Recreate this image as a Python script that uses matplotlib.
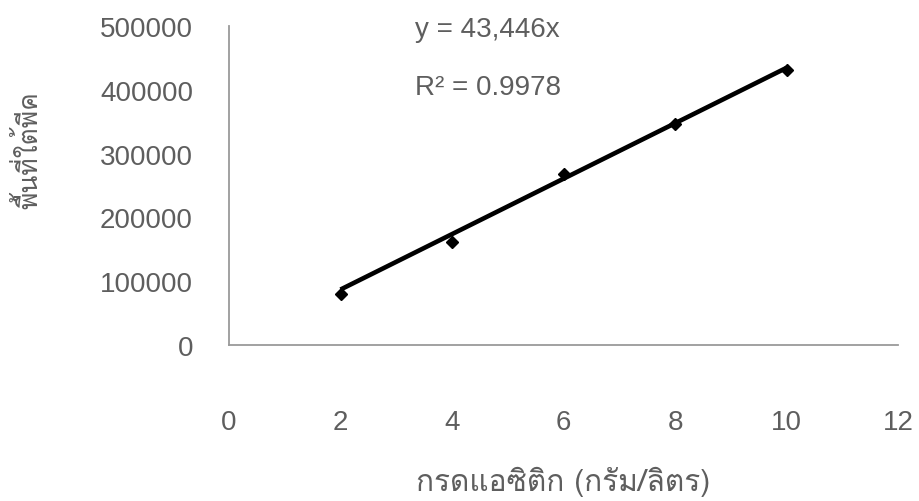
import matplotlib
matplotlib.use("Agg")
import matplotlib.pyplot as plt
from matplotlib import font_manager
from matplotlib.ft2font import FT2Font
import numpy as np

# acetic acid concentration (g/L) vs peak area
conc = [2, 4, 6, 8, 10]
peak_area = [80000, 161000, 268000, 347000, 431000]
slope = 43446
r2 = 0.9978
x_ticks = [0, 2, 4, 6, 8, 10, 12]
y_ticks = [0, 100000, 200000, 300000, 400000, 500000]

x_title = "กรดแอซิติก (กรัม/ลิตร)"
y_title = "พื้นที่ใต้พีค"


def thai_family():
    # first installed family that actually has Thai glyphs
    for f in font_manager.fontManager.ttflist:
        try:
            if 0x0E01 in FT2Font(f.fname).get_charmap():
                return f.name
        except Exception:
            pass
    return "DejaVu Sans"


thai = thai_family()
plt.rcParams["font.family"] = ["Liberation Sans", "DejaVu Sans"]
grey = "#5e5e5e"

fig = plt.figure(figsize=(9.19, 5.02), dpi=100)
ax = fig.add_axes([0.2492, 0.3108, 0.9772 - 0.2492, 0.9462 - 0.3108])

xs = np.array([conc[0], conc[-1]])
ax.plot(xs, slope * xs, color="black", lw=3.3, solid_capstyle="butt", zorder=2)
ax.plot(conc, peak_area, ls="none", marker="D", ms=6, color="black", zorder=3)

ax.set_xlim(0, 12)
ax.set_ylim(0, 500000)
ax.set_xticks(x_ticks)
ax.set_yticks(y_ticks)
ax.tick_params(axis="both", length=0, labelsize=20, colors=grey)
ax.tick_params(axis="x", pad=46)
ax.tick_params(axis="y", pad=26)

for side in ("top", "right"):
    ax.spines[side].set_visible(False)
for side in ("left", "bottom"):
    ax.spines[side].set_color("#9a9a9a")
    ax.spines[side].set_linewidth(1.3)

ax.text(415 / 919, 1 - 30 / 502, f"y = {slope:,}x", transform=fig.transFigure,
        fontsize=20, color=grey, va="center", ha="left")
ax.text(415 / 919, 1 - 88 / 502, f"R² = {r2}", transform=fig.transFigure,
        fontsize=20, color=grey, va="center", ha="left")

fig.text(563 / 919, 1 - 482 / 502, x_title, family=[thai, "DejaVu Sans"],
         fontsize=21.5, color=grey, ha="center", va="center")
fig.text(28 / 919, 1 - 150 / 502, y_title, family=[thai, "DejaVu Sans"],
         fontsize=19, color=grey, ha="center", va="center", rotation=90)

fig.savefig("out.png", dpi=100, facecolor="white")
